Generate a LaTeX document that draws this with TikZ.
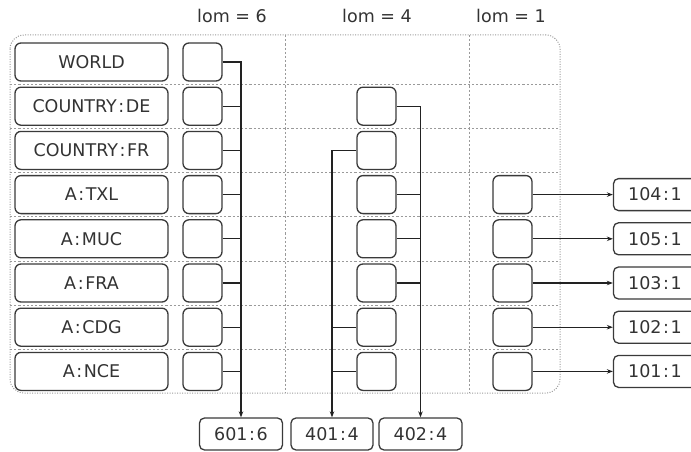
\documentclass[tikz,border=0pt]{standalone}
\usepackage{fontspec}
\setmainfont{DejaVu Sans}
\usetikzlibrary{arrows.meta}
\definecolor{boxc}{HTML}{3A3A3A}
\definecolor{txtc}{HTML}{333333}
\definecolor{gridc}{HTML}{9A9A9A}
\definecolor{linec}{HTML}{222222}
\newcommand{\cln}{\kern1.6pt:\kern1.6pt}
\begin{document}
\begin{tikzpicture}[x=1pt,y=-1pt,
  txt/.style={font=\fontsize{17.5}{20}\selectfont, text=txtc},
  lbl/.style={txt, draw=boxc, fill=white, line width=1.3pt, rounded corners=6pt, minimum width=153pt, minimum height=38pt, inner sep=0pt},
  cell/.style={draw=boxc, fill=white, line width=1.3pt, rounded corners=6pt, minimum width=39pt, minimum height=38pt, inner sep=0pt},
  res/.style={txt, draw=boxc, fill=white, line width=1.3pt, rounded corners=5pt, minimum width=83pt, minimum height=32pt, inner sep=0pt},
  gridline/.style={draw=gridc, line width=0.8pt, dash pattern=on 2.2pt off 2pt},
  outline/.style={draw=gridc, line width=1pt, dash pattern=on 1pt off 1.5pt},
  conn/.style={draw=linec, line width=1.2pt},
  arr/.style={conn, -{Stealth[length=6pt,width=4.5pt]}}
]
\useasboundingbox (0,0) rectangle (691,452);
\clip (0,0) rectangle (691,452);

% headings
\node[txt] (h6) at (232,16) {lom = 6};
\node[txt] (h4) at (377,16) {lom = 4};
\node[txt] (h1) at (511,16) {lom = 1};

% grid
\foreach \y in {84.1,128.3,172.5,216.7,260.9,305.1,349.3}
  \draw[gridline] (10,\y) -- (560,\y);
\foreach \x in {285,469}
  \draw[gridline] (\x,35) -- (\x,393);
\draw[outline, rounded corners=14pt] (10,35) rectangle (560,393);

% rows
\foreach \i/\t in {1/WORLD,2/COUNTRY\cln DE,3/COUNTRY\cln FR,4/A\cln TXL,5/A\cln MUC,6/A\cln FRA,7/A\cln CDG,8/A\cln NCE}{
  \pgfmathsetmacro{\yy}{62+44.2*(\i-1)}
  \node[lbl] (l\i) at (91.5,\yy) {\t};
  \node[cell] (a\i) at (202.5,\yy) {};
}
\foreach \i in {2,...,8}{
  \pgfmathsetmacro{\yy}{62+44.2*(\i-1)}
  \node[cell] (b\i) at (376.5,\yy) {};
}
\foreach \i/\t in {4/104\cln 1,5/105\cln 1,6/103\cln 1,7/102\cln 1,8/101\cln 1}{
  \pgfmathsetmacro{\yy}{62+44.2*(\i-1)}
  \node[cell] (c\i) at (512.5,\yy) {};
  \node[res] (r\i) at (655,\yy) {\t};
}

% result boxes
\node[res] (r601) at (241,434) {601\cln 6};
\node[res, minimum width=82pt] (r401) at (332,434) {401\cln 4};
\node[res] (r402) at (420.5,434) {402\cln 4};

% lom = 6 connectors
\draw[arr] (a1.east) -| (r601.north);
\foreach \i in {2,...,8}
  \draw[conn] (a\i.east) -- (a\i.east -| r601.north);

% lom = 4 connectors
\draw[arr] (b2.east) -| (r402.north);
\foreach \i in {4,5,6}
  \draw[conn] (b\i.east) -- (b\i.east -| r402.north);
\draw[arr] (b3.west) -| (r401.north);
\foreach \i in {7,8}
  \draw[conn] (b\i.west) -- (b\i.west -| r401.north);

% lom = 1 connectors
\foreach \i in {4,...,8}
  \draw[arr] (c\i.east) -- (r\i.west);
\end{tikzpicture}
\end{document}
